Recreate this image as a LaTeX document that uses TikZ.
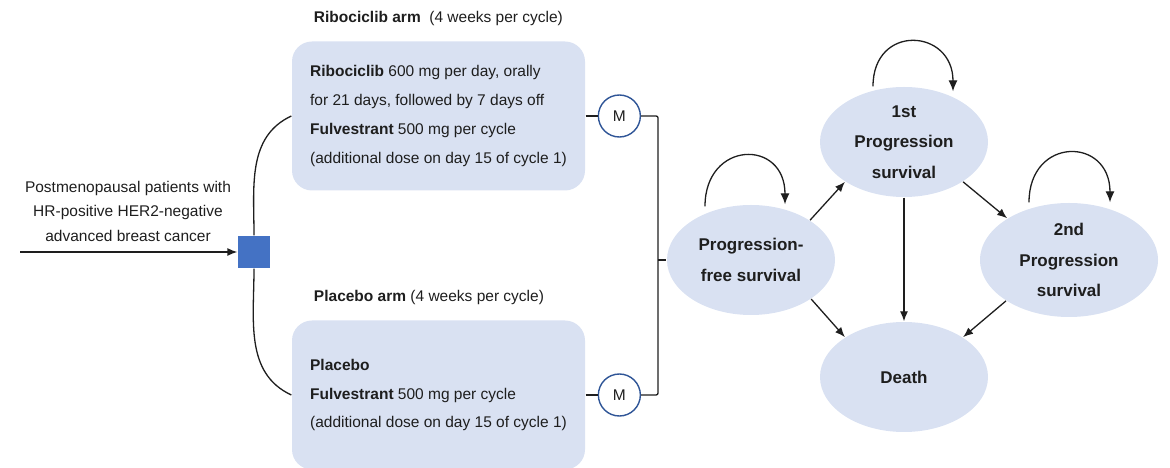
\documentclass[tikz,border=0pt]{standalone}
\usepackage{fontspec}
\setmainfont{Liberation Sans}
\usepackage{tikz}
\usetikzlibrary{arrows.meta,shapes,positioning,calc}
\definecolor{armfill}{RGB}{217,225,242}
\definecolor{randblue}{RGB}{68,114,196}
\definecolor{monblue}{RGB}{47,85,151}
\definecolor{ink}{RGB}{30,30,30}
\tikzstyle{aS}=[every edge/.style={draw,-{Latex[length=10pt,width=8pt]}}]
\tikzstyle{Aarm}=[fill=armfill,rounded corners=20pt,minimum width=293pt,
               minimum height=149pt,align=left,text=ink,
               font=\fontsize{15.5}{28.7}\selectfont]
\tikzstyle{Astate}=[ellipse,fill=armfill,minimum width=168pt,minimum height=110pt,
               inner sep=0,align=center,text=ink,
               font=\bfseries\fontsize{17}{30.5}\selectfont]
\tikzstyle{Amon}=[circle,draw=monblue,line width=1.4pt,fill=white,minimum size=42pt,
               inner sep=0,text=ink,font=\fontsize{15.5}{18}\selectfont]
\tikzstyle{Arand}=[fill=randblue,minimum size=32pt,inner sep=0]
\tikzstyle{Aloop}=[-{Latex[length=11pt,width=9pt]},out=90,in=90]
\tikzstyle{Atxt}=[text=ink,font=\fontsize{15.5}{24.5}\selectfont]

\begin{document}
\begin{tikzpicture}[x=1pt,y=1pt,aS,line width=1.3pt,color=ink]
  \useasboundingbox (0,0) rectangle (1170,468);
  % patients and randomisation
  \node[Atxt,align=center] (pop) at (128,257) {Postmenopausal patients with\\
        HR-positive HER2-negative\\advanced breast cancer};
  \node[Arand] (rand) at (254,216) {};
  \coordinate (in) at (20,216);
  \path (in) edge (rand);
  % treatment arms
  \node[Aarm] (box1) at (438.5,352) {\textbf{Ribociclib} 600 mg per day, orally\\
        for 21 days, followed by 7 days off\\
        \textbf{Fulvestrant} 500 mg per cycle\\
        (additional dose on day 15 of cycle 1)};
  \node[Aarm] (box2) at (438.5,73) {\textbf{Placebo}\\
        \textbf{Fulvestrant} 500 mg per cycle\\
        (additional dose on day 15 of cycle 1)};
  \node[Atxt,anchor=west] (tit1) at (310,449) {\textbf{Ribociclib arm}\ \ (4 weeks per cycle)};
  \node[Atxt,anchor=west] (tit2) at (310,171) {\textbf{Placebo arm} (4 weeks per cycle)};
  \draw (rand.north) to[out=90,in=205] (box1.west);
  \draw (rand.south) to[out=-90,in=155] (box2.west);
  % model
  \node[Amon,right=12pt of box1] (m1) {M};
  \node[Amon,right=12pt of box2] (m2) {M};
  \draw (box1) -- (m1);
  \draw (box2) -- (m2);
  % health states
  \node[Astate] (pfs) at (751,208) {Progression-\\free survival};
  \node[Astate] (first) at (904,326) {1st\\Progression\\survival};
  \node[Astate,minimum width=178pt,minimum height=114pt] (second) at (1069,208)
        {2nd\\Progression\\survival};
  \node[Astate] (death) at (904,91) {Death};
  \coordinate (brk) at ([xshift=17pt]m1.east);
  \draw[rounded corners=2pt] (m1) -- (brk) |- (m2);
  \draw (brk |- pfs) -- (pfs);
  \path (pfs.34) edge (first.214)
        (pfs.327) edge (death.146)
        (first.south) edge (death.north)
        (first.326) edge (second.146)
        (second.213) edge (death.34);
  \draw[Aloop,distance=66pt] ([xshift=-46pt,yshift=-2pt]pfs.north) to ([xshift=34pt]pfs.north);
  \draw[Aloop,distance=63pt] ([xshift=-31pt]first.north) to ([xshift=49pt,yshift=-5pt]first.north);
  \draw[Aloop,distance=66pt] ([xshift=-40pt]second.north) to ([xshift=41pt]second.north);
\end{tikzpicture}
\end{document}
